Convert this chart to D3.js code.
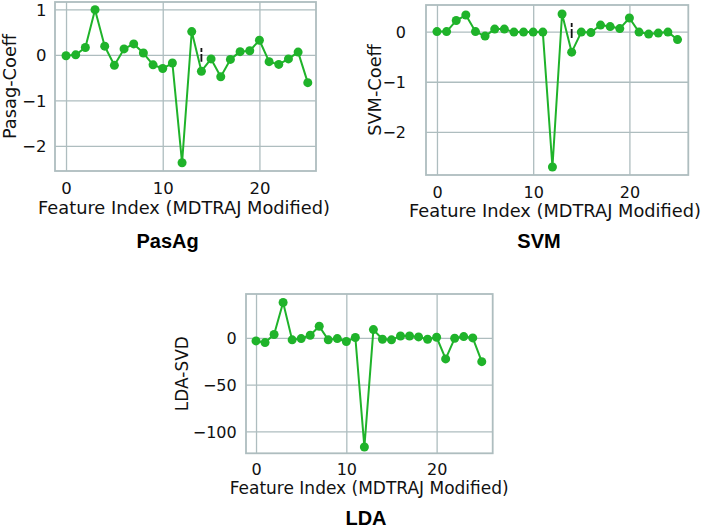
<!DOCTYPE html>
<html>
<head>
<meta charset="utf-8">
<script src="https://cdn.jsdelivr.net/npm/d3@7"></script>
<style>
  html, body { margin: 0; padding: 0; background: #fff; }
  svg { display: block; }
</style>
</head>
<body>
<svg id="chart" width="708" height="528"></svg>
<script>
// ---- data ----
const featureIndex = d3.range(26);
const pasagCoeff = [-0.02, 0.00, 0.16, 0.99, 0.19, -0.23, 0.13, 0.24, 0.04, -0.22,
  -0.30, -0.18, -2.37, 0.51, -0.36, -0.09, -0.48, -0.10, 0.07, 0.09,
  0.32, -0.15, -0.21, -0.09, 0.06, -0.61];
const svmCoeff = [0.00, 0.00, 0.22, 0.33, 0.00, -0.09, 0.05, 0.05, -0.01, -0.01,
  -0.01, -0.01, -2.70, 0.35, -0.41, -0.01, -0.02, 0.13, 0.10, 0.06,
  0.27, -0.01, -0.05, -0.03, -0.01, -0.16];
const ldaSvd = [-3.2, -5.0, 3.6, 37.9, -2.1, -0.7, 2.9, 12.5, -2.1, -0.7,
  -3.9, 0.4, -116.8, 8.9, -1.4, -2.1, 2.1, 2.1, 1.1, -1.4,
  0.7, -22.5, -0.4, 1.4, 0.0, -25.4];
const xTicks = [0, 10, 20];
const pasagTicks = [-2, -1, 0, 1];
const svmTicks = [-2, -1, 0];
const ldaTicks = [-100, -50, 0];
const markIndex = 14;
const pasagMark = [0.15, -0.15];
const svmMark = [0.17, -0.14];
const titles = ["PasAg", "SVM", "LDA"];
const yLabels = ["Pasag-Coeff", "SVM-Coeff", "LDA-SVD"];
const xLabel = "Feature Index (MDTRAJ Modified)";

// ---- layout ----
const panels = [
  { values: pasagCoeff, yTicks: pasagTicks, mark: pasagMark, title: titles[0], ylab: yLabels[0],
    left: 55, right: 316, top: 2, bottom: 171, xDom: [-1.14, 25.85], yDom: [-2.55, 1.16],
    fs: 17.8, tfs: 16.5, yTickX: 46.5, xTickDy: 22.5, ylabX: 15.5, xlabY: 213.5, xlabX: 184,
    titleX: 167.6, titleY: 248 },
  { values: svmCoeff, yTicks: svmTicks, mark: svmMark, title: titles[1], ylab: yLabels[1],
    left: 426, right: 688.3, top: 5, bottom: 175, xDom: [-1.14, 26.12], yDom: [-2.86, 0.53],
    fs: 17.8, tfs: 16, yTickX: 406, xTickDy: 22.5, ylabX: 381, xlabY: 217, xlabX: 555,
    titleX: 539, titleY: 248 },
  { values: ldaSvd, yTicks: ldaTicks, mark: null, title: titles[2], ylab: yLabels[2],
    left: 246, right: 492.7, top: 294, bottom: 453.3, xDom: [-1.11, 26.21], yDom: [-123.5, 47],
    fs: 17, tfs: 16, yTickX: 236.7, xTickDy: 22, ylabX: 188.3, xlabY: 494, xlabX: 369.2,
    titleX: 366, titleY: 525 }
];

const green = "#1fb32a";
const gridColor = "#aebdbf";
const font = "'DejaVu Sans', sans-serif";
const fmt = d3.format("");

const svg = d3.select("#chart");

panels.forEach(p => {
  const x = d3.scaleLinear().domain(p.xDom).range([p.left, p.right]);
  const y = d3.scaleLinear().domain(p.yDom).range([p.bottom, p.top]);
  const g = svg.append("g");

  // grid via axes
  const gx = g.append("g").attr("transform", `translate(0,${p.bottom})`)
    .call(d3.axisBottom(x).tickValues(xTicks).tickSize(-(p.bottom - p.top)).tickFormat(fmt));
  gx.select(".domain").remove();
  gx.selectAll("line").attr("stroke", gridColor).attr("stroke-width", 1.3);
  gx.selectAll("text").attr("y", p.xTickDy).attr("dy", 0)
    .attr("font-family", font).attr("font-size", p.tfs).attr("fill", "#111");

  const gy = g.append("g").attr("transform", `translate(${p.left},0)`)
    .call(d3.axisLeft(y).tickValues(p.yTicks).tickSize(-(p.right - p.left)).tickFormat(fmt));
  gy.select(".domain").remove();
  gy.selectAll("line").attr("stroke", gridColor).attr("stroke-width", 1.3);
  gy.selectAll("text").attr("x", p.yTickX - p.left).attr("dy", "0.36em")
    .attr("font-family", font).attr("font-size", p.tfs).attr("fill", "#111");

  // frame
  g.append("rect").attr("x", p.left).attr("y", p.top)
    .attr("width", p.right - p.left).attr("height", p.bottom - p.top)
    .attr("fill", "none").attr("stroke", gridColor).attr("stroke-width", 1.8);

  // line
  const line = d3.line().x((d, i) => x(featureIndex[i])).y(d => y(d));
  g.append("path").datum(p.values).attr("d", line)
    .attr("fill", "none").attr("stroke", green).attr("stroke-width", 2)
    .attr("stroke-linejoin", "round");
  g.selectAll("circle.pt").data(p.values).enter().append("circle")
    .attr("class", "pt")
    .attr("cx", (d, i) => x(featureIndex[i])).attr("cy", d => y(d))
    .attr("r", 4.5).attr("fill", green);

  // small dashed mark
  if (p.mark) {
    g.append("line").attr("x1", x(markIndex)).attr("x2", x(markIndex))
      .attr("y1", y(p.mark[0])).attr("y2", y(p.mark[1]))
      .attr("stroke", "#111").attr("stroke-width", 1.8)
      .attr("stroke-dasharray", "4,2,9,20");
  }

  // labels
  g.append("text").attr("x", p.xlabX).attr("y", p.xlabY)
    .attr("text-anchor", "middle").attr("font-family", font).attr("font-size", p.fs)
    .attr("fill", "#111").text(xLabel);
  g.append("text")
    .attr("transform", `translate(${p.ylabX},${(p.top + p.bottom) / 2}) rotate(-90)`)
    .attr("text-anchor", "middle").attr("font-family", font).attr("font-size", p.fs)
    .attr("fill", "#111").text(p.ylab);
  g.append("text").attr("x", p.titleX).attr("y", p.titleY)
    .attr("text-anchor", "middle").attr("font-family", "'Liberation Sans', Arial, sans-serif")
    .attr("font-weight", "bold").attr("font-size", 20).attr("fill", "#000").text(p.title);
});
</script>
</body>
</html>
